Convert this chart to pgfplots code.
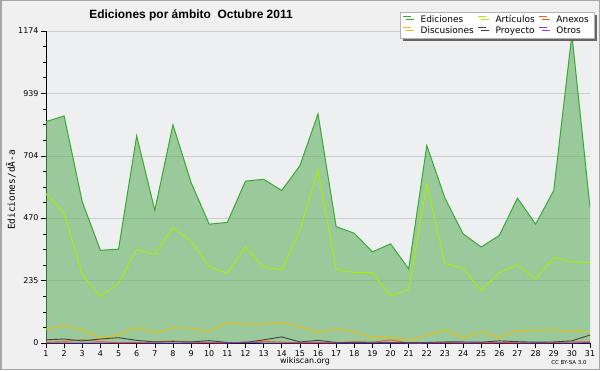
\documentclass[border=0pt]{standalone}
\usepackage{pgfplots}
\pgfplotsset{compat=1.18}
\usepackage{fontspec}
\setmainfont{DejaVu Sans}
\newfontfamily\titlefont{Liberation Sans}
\newfontfamily\monofont{DejaVu Sans Mono}
\usetikzlibrary{shadows}
\definecolor{outerbg}{RGB}{240,240,240}
\definecolor{plotbg}{RGB}{238,239,241}
\definecolor{edfill}{RGB}{98,177,98}
\definecolor{edline}{RGB}{55,170,50}
\definecolor{artline}{RGB}{170,240,0}
\definecolor{disline}{RGB}{240,190,0}
\definecolor{proline}{RGB}{64,64,64}
\definecolor{anxline}{RGB}{250,90,30}
\definecolor{otrline}{RGB}{140,60,230}
\begin{document}
\begin{tikzpicture}[x=1bp,y=1bp]
\path[fill=outerbg,draw=gray!70,line width=1.5bp] (0.75,0.75) rectangle (599.25,369.25);
\begin{axis}[
  at={(46bp,27bp)}, anchor=south west,
  scale only axis, width=544bp, height=312bp,
  xmin=1, xmax=31, ymin=0, ymax=1174,
  axis x line=bottom, axis y line=left,
  axis line style={-, black, line width=0.8bp},
  axis background/.style={fill=plotbg},
  xtick={1,...,31},
  ytick={0,235,470,704,939,1174},
  minor ytick={58.7,117.4,176.1,293.5,352.2,410.9,528.3,587,645.7,763.1,821.8,880.5,997.9,1056.6,1115.3},
  tick align=outside,
  major tick length=5bp, minor tick length=3bp,
  tick style={black, line width=0.6bp},
  ymajorgrids, major grid style={color=black!20, line width=0.8bp},
  ticklabel style={font=\fontsize{8}{9}\selectfont},
  /pgf/number format/assume math mode=true,
  /pgf/number format/1000 sep={},
  xticklabel style={yshift=1bp},
  yticklabel style={xshift=1bp},
  legend columns=3,
  legend style={at={(1.0074,1.0615)}, anchor=north east, draw=gray!60, fill=white,
    font=\fontsize{9}{9}\selectfont, inner xsep=3bp, inner ysep=1.5bp, row sep=-1.5bp,
    /tikz/every odd column/.append style={column sep=7bp},
    /tikz/every even column/.append style={column sep=2bp},
    drop shadow={shadow xshift=3bp, shadow yshift=-3bp, fill=black!60, opacity=1}},
  legend cell align=left,
  legend image code/.code={\draw[#1, line width=0.8bp] (0bp,3bp) -- (8bp,3bp);},
]
\addplot[draw=none, fill=edfill, fill opacity=0.6, forget plot] coordinates {
(1,833)(2,854)(3,531)(4,349)(5,353)(6,779)(7,499)(8,821)(9,604)(10,447)(11,454)(12,609)(13,616)(14,574)(15,667)(16,862)(17,438)(18,413)(19,343)(20,373)(21,279)(22,743)(23,545)(24,411)(25,361)(26,405)(27,545)(28,447)(29,574)(30,1160)(31,511)} \closedcycle;
\addplot[edline, line width=1bp] coordinates {
(1,833)(2,854)(3,531)(4,349)(5,353)(6,779)(7,499)(8,821)(9,604)(10,447)(11,454)(12,609)(13,616)(14,574)(15,667)(16,862)(17,438)(18,413)(19,343)(20,373)(21,279)(22,743)(23,545)(24,411)(25,361)(26,405)(27,545)(28,447)(29,574)(30,1160)(31,511)};
\addlegendentry{Ediciones}
\addplot[artline, line width=0.9bp] coordinates {
(1,562)(2,490)(3,256)(4,175)(5,225)(6,352)(7,333)(8,435)(9,383)(10,288)(11,262)(12,362)(13,285)(14,276)(15,423)(16,652)(17,277)(18,265)(19,265)(20,177)(21,201)(22,599)(23,299)(24,281)(25,197)(26,265)(27,294)(28,240)(29,321)(30,306)(31,302)};
\addlegendentry{Artículos}
\addplot[anxline, line width=0.9bp] coordinates {
(1,3)(2,5)(3,12)(4,5)(5,1)(6,2)(7,4)(8,8)(9,3)(10,2)(11,1)(12,1)(13,6)(14,3)(15,1)(16,2)(17,1)(18,5)(19,2)(20,12)(21,0)(22,1)(23,2)(24,1)(25,1)(26,2)(27,1)(28,1)(29,2)(30,4)(31,5)};
\addlegendentry{Anexos}
\addplot[disline, line width=0.9bp] coordinates {
(1,52)(2,67)(3,48)(4,20)(5,29)(6,58)(7,39)(8,58)(9,55)(10,43)(11,75)(12,71)(13,71)(14,77)(15,62)(16,39)(17,52)(18,42)(19,20)(20,23)(21,10)(22,29)(23,49)(24,20)(25,43)(26,20)(27,47)(28,48)(29,49)(30,45)(31,41)};
\addlegendentry{Discusiones}
\addplot[proline, line width=0.9bp] coordinates {
(1,12)(2,15)(3,8)(4,15)(5,20)(6,10)(7,4)(8,5)(9,4)(10,9)(11,2)(12,2)(13,12)(14,23)(15,4)(16,10)(17,2)(18,2)(19,3)(20,2)(21,2)(22,2)(23,4)(24,4)(25,3)(26,8)(27,5)(28,3)(29,4)(30,8)(31,30)};
\addlegendentry{Proyecto}
\addplot[otrline, line width=0.9bp] coordinates {
(1,0)(2,0)(3,0)(4,0)(5,0)(6,0)(7,0)(8,0)(9,0)(10,0)(11,0)(12,4)(13,0)(14,0)(15,0)(16,0)(17,0)(18,0)(19,0)(20,0)(21,0)(22,0)(23,0)(24,0)(25,0)(26,0)(27,0)(28,0)(29,0)(30,0)(31,2)};
\addlegendentry{Otros}
\end{axis}
\node[font=\titlefont\bfseries\fontsize{12}{14}\selectfont] at (191,355) {Ediciones por ámbito\ \ Octubre 2011};
\node[rotate=90, font=\monofont\fontsize{9.5}{10}\selectfont] at (11,180) {Ediciones/dÃ-a};
\node[font=\fontsize{8}{9}\selectfont] at (305,9) {wikiscan.org};
\node[font=\fontsize{5.5}{6}\selectfont] at (569,8) {CC BY-SA 3.0};
\end{tikzpicture}
\end{document}
